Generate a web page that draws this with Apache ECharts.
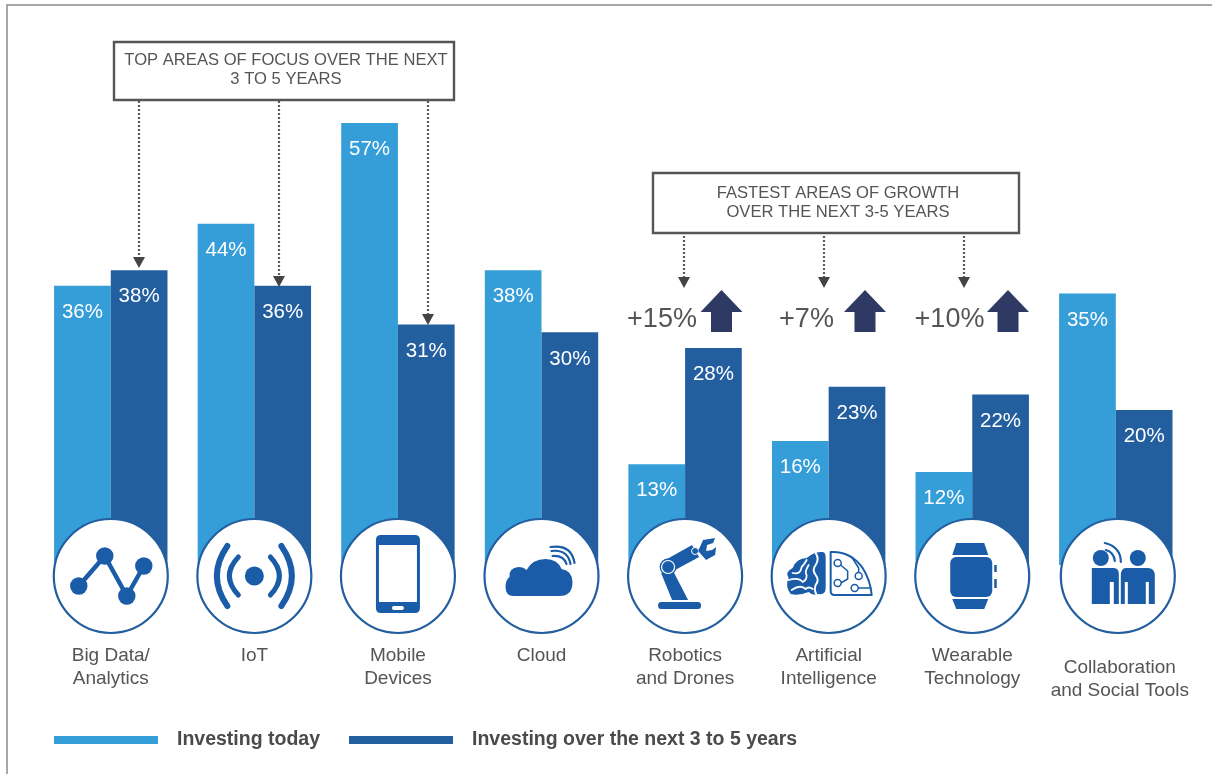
<!DOCTYPE html>
<html>
<head>
<meta charset="utf-8">
<script src="https://cdn.jsdelivr.net/npm/echarts@6/dist/echarts.min.js"></script>
<style>
html, body { margin: 0; padding: 0; background: #fff; }
#main { width: 1212px; height: 774px; }
</style>
</head>
<body>
<div id="main"></div>
<script>
var categories = ['Big Data/\nAnalytics', 'IoT', 'Mobile\nDevices', 'Cloud', 'Robotics\nand Drones', 'Artificial\nIntelligence', 'Wearable\nTechnology', 'Collaboration\nand Social Tools'];
var investingToday = [36, 44, 57, 38, 13, 16, 12, 35];
var investingNext = [38, 36, 31, 30, 28, 23, 22, 20];
var seriesNames = ['Investing today', 'Investing over the next 3 to 5 years'];
var growthLabels = ['+15%', '+7%', '+10%'];

var LIGHT = '#359dd8', DARK = '#235f9f', ICON = '#1a5ca8', ARROW = '#2e3a63', GREY = '#555555';
var FONT = '"Liberation Sans", Arial, sans-serif';

var myChart = echarts.init(document.getElementById('main'));

function fillPath(d, color) {
    return { type: 'path', shape: { pathData: d }, style: { fill: color || ICON } };
}
function strokePath(d, w, color) {
    return { type: 'path', shape: { pathData: d }, style: { fill: 'none', stroke: color || ICON, lineWidth: w, lineCap: 'round', lineJoin: 'round' } };
}
function dot(x, y, r) {
    return { type: 'circle', shape: { cx: x, cy: y, r: r }, style: { fill: ICON } };
}
function ring(x, y) {
    return { type: 'circle', shape: { cx: x, cy: y, r: 3.5 }, style: { fill: '#fff', stroke: ICON, lineWidth: 1.5 } };
}
function block(x, y, w, h, r, color) {
    return { type: 'rect', shape: { x: x, y: y, width: w, height: h, r: r || 0 }, style: { fill: color || ICON } };
}

// small icons, drawn around 0,0 inside each circle
var icons = [
    // line chart
    [strokePath('M-32 10L-6 -20L16 20L33 -10', 4.5), dot(-32, 10, 8.7), dot(-6, -20, 8.7), dot(16, 20, 8.7), dot(33, -10, 8.7)],
    // signal
    [dot(0, 0, 9.5),
     strokePath('M-16 -19Q-34 0 -16 19', 5), strokePath('M16 -19Q34 0 16 19', 5),
     strokePath('M-27 -30Q-48 0 -27 30', 6), strokePath('M27 -30Q48 0 27 30', 6)],
    // phone
    [fillPath('M-17 -41H17Q22 -41 22 -36V32Q22 37 17 37H-17Q-22 37 -22 32V-36Q-22 -41 -17 -41Z'),
     block(-19, -31, 38, 57, 0, '#fff'),
     block(-6, 30, 12, 4, 2, '#fff')],
    // cloud
    [fillPath('M-28 20Q-36 20 -36 11Q-36 4 -32 1Q-33 -8 -23 -9Q-18 -9 -15 -6Q-9 -17 4 -17Q16 -17 20 -7Q31 -5 31 6Q31 20 18 20Z'),
     strokePath('M11 -20Q22 -21 25 -12', 2.2), strokePath('M10 -25Q26 -27 29 -12', 2.2), strokePath('M9 -29Q30 -32 33 -13', 2.2)],
    // robot arm
    [fillPath('M-24 26H13Q16 26 16 29.5Q16 33 13 33H-24Q-27 33 -27 29.5Q-27 26 -24 26Z'),
     fillPath('M-24 -3L-13 -7L3 24H-13Z'),
     fillPath('M-18 -17L7 -31L14 -19L-10 -6Z'),
     dot(-17, -9, 8.5),
     { type: 'circle', shape: { cx: -17, cy: -9, r: 6.5 }, style: { fill: ICON, stroke: '#fff', lineWidth: 1.2 } },
     { type: 'circle', shape: { cx: 10, cy: -25, r: 3.5 }, style: { fill: ICON, stroke: '#fff', lineWidth: 1 } },
     fillPath('M13 -25L18 -36L30 -38L28 -33L22 -31L21 -25L27 -26L31 -29L30 -21L21 -16Z')],
    // brain + circuit
    [fillPath('M-6 -24Q-3 -24 -3 -18V12Q-3 19 -10 18Q-16 20 -20 16Q-30 20 -38 18Q-44 10 -40 2Q-44 -4 -36 -8Q-32 -18 -22 -18Q-14 -25 -6 -24Z'),
     strokePath('M-13 -23Q-9 -17 -13 -11Q-17 -6 -13 -1Q-9 4 -13 9Q-15 14 -12 19', 2, '#fff'),
     strokePath('M-36 -3Q-28 -1 -27 -9Q-24 -12 -22 -16M-40 4Q-30 1 -26 6Q-20 3 -23 -4Q-22 -8 -20 -11M-37 14Q-28 8 -23 13Q-20 10 -16 13', 1.8, '#fff'),
     strokePath('M2 -24Q22 -25 34 -8Q42 5 43 19H6Q2 19 2 15Z', 2),
     strokePath('M12 -11L19 -5V3L12 7M30 -4V-8L23 -19M29 12H42', 1.5),
     ring(9, -13), ring(9, 7), ring(30, 0), ring(26, 12)],
    // watch
    [fillPath('M-16 -33H12L16 -21H-20Z'), fillPath('M-20 23H16L12 33H-16Z'),
     block(-22, -19, 42, 40, 6),
     block(22, -11, 2.5, 7), block(22, 3, 2.5, 9)],
    // two people
    [dot(-17, -18, 8), dot(20, -18, 8),
     fillPath('M-26 -8H-4Q1 -8 1 -2V28H-4V6H-8V28H-26Z'),
     fillPath('M8 -8H30Q37 -8 37 0V28H31V6H28V28H10V6H7V28H3V0Q3 -8 8 -8Z'),
     strokePath('M-12 -26Q-4 -24 -3 -15', 2.2), strokePath('M-13 -33Q3 -29 3 -14', 2.2)]
];
// last disc sits a little right of its bar pair
var iconShift = [0, 0, 0, 0, 0, 0, 0, 2];

var graphics = [];

// page frame
graphics.push({ type: 'polyline', shape: { points: [[1212, 5], [7, 5], [7, 774]] }, style: { fill: 'none', stroke: '#8c8c8c', lineWidth: 1.5 }, z: 0 });

function box(x, y, w, h, lines, dy) {
    graphics.push({ type: 'rect', shape: { x: x, y: y, width: w, height: h }, style: { fill: '#fff', stroke: GREY, lineWidth: 2.4 }, z: 12 });
    graphics.push({ type: 'text', x: x + w / 2 + 2, y: y + h / 2 + dy, z: 13, style: { text: lines, fill: GREY, font: '16.6px ' + FONT, align: 'center', verticalAlign: 'middle', lineHeight: 19 } });
}
function dotted(x, y1, y2) {
    graphics.push({ type: 'line', shape: { x1: x, y1: y1, x2: x, y2: y2 - 10 }, style: { stroke: '#5a5a5a', lineWidth: 2.2, lineDash: [2, 2] }, z: 11 });
    graphics.push({ type: 'polygon', shape: { points: [[x - 6, y2 - 11], [x + 6, y2 - 11], [x, y2]] }, style: { fill: '#444' }, z: 11 });
}
box(114, 42, 340, 58, 'TOP AREAS OF FOCUS OVER THE NEXT\n3 TO 5 YEARS', -1.5);
box(653, 173, 366, 60, 'FASTEST AREAS OF GROWTH\nOVER THE NEXT 3-5 YEARS', 0);
dotted(139, 101, 268);
dotted(279, 101, 287);
dotted(428, 101, 325);
dotted(684, 236, 288);
dotted(824, 236, 288);
dotted(964, 236, 288);

// growth callouts
[[662, 721.5], [806.5, 865], [949.5, 1008]].forEach(function(c, i) {
    graphics.push({ type: 'text', x: c[0], y: 320, z: 11, style: { text: growthLabels[i], fill: GREY, font: '27px ' + FONT, align: 'center', verticalAlign: 'middle' } });
    graphics.push({ type: 'polygon', z: 11, shape: { points: [[c[1], 290], [c[1] + 21, 312], [c[1] + 10.5, 312], [c[1] + 10.5, 332], [c[1] - 10.5, 332], [c[1] - 10.5, 312], [c[1] - 21, 312]] }, style: { fill: ARROW } });
});

var option = {
    animation: false,
    textStyle: { fontFamily: FONT },
    grid: { left: 39, right: 24.4, top: 123, height: 442 },
    legend: {
        left: 54, top: 730, padding: 0, itemGap: 29,
        itemWidth: 104, itemHeight: 8, icon: 'rect',
        data: seriesNames,
        textStyle: { color: '#4a4a4a', fontSize: 19.5, fontWeight: 'bold', padding: [0, 0, 0, 14] }
    },
    xAxis: {
        type: 'category',
        data: categories,
        axisLine: { show: false },
        axisTick: { show: false },
        axisLabel: {
            interval: 0, margin: 79, color: GREY, fontSize: 19, lineHeight: 23,
            formatter: function(v) {
                if (v.indexOf('Collaboration') === 0) return '{sp|}\n' + v.split('\n').map(function(s) { return '{n|' + s + '}'; }).join('\n');
                return v;
            },
            rich: {
                sp: { height: 12, lineHeight: 12 },
                n: { color: GREY, fontSize: 19, lineHeight: 23, padding: [0, 0, 0, 8] }
            }
        }
    },
    yAxis: { type: 'value', min: 0, max: 57, show: false },
    color: [LIGHT, DARK],
    series: [
        {
            name: seriesNames[0], type: 'bar', barWidth: 56.7, barGap: 0,
            data: investingToday,
            label: { show: true, position: 'insideTop', distance: 16, color: '#fff', fontSize: 20.5, formatter: '{c}%' }
        },
        {
            name: seriesNames[1], type: 'bar', barWidth: 56.7,
            data: investingNext,
            label: { show: true, position: 'insideTop', distance: 16, color: '#fff', fontSize: 20.5, formatter: '{c}%' }
        },
        {
            // white discs with the icons, sitting over the foot of each bar pair
            type: 'custom', z: 10, clip: false, silent: true,
            data: categories.map(function(c, i) { return [i, 0]; }),
            renderItem: function(params, api) {
                var pt = api.coord([api.value(0), 0]);
                return {
                    type: 'group', x: pt[0] + iconShift[params.dataIndex], y: pt[1] + 11,
                    children: [{ type: 'circle', shape: { cx: 0, cy: 0, r: 57 }, style: { fill: '#fff', stroke: DARK, lineWidth: 2.2 } }].concat(icons[params.dataIndex])
                };
            }
        }
    ],
    graphic: graphics
};

myChart.setOption(option);
</script>
</body>
</html>
